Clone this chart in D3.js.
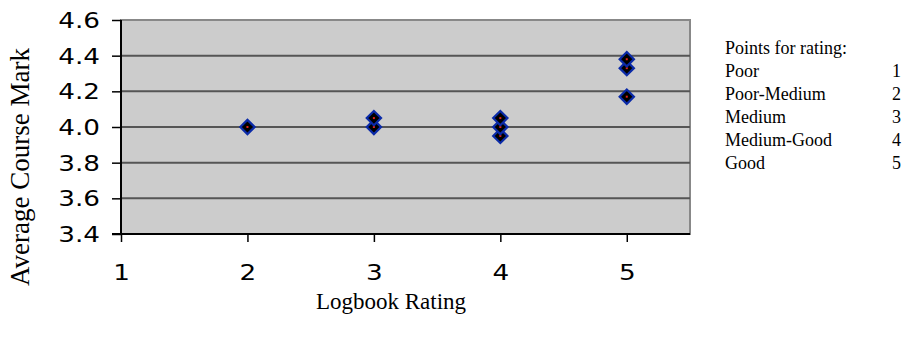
<!DOCTYPE html>
<html><head><meta charset="utf-8">
<script src="https://cdn.jsdelivr.net/npm/d3@7"></script>
<style>
html,body{margin:0;padding:0;background:#fff;}
svg{display:block;}
</style></head>
<body>
<svg id="chart" width="913" height="338"></svg>
<script>
// Data
const ratingX = [2, 3, 3, 4, 4, 4, 5, 5, 5];
const courseMark = [4.0, 4.0, 4.05, 3.95, 4.0, 4.05, 4.17, 4.33, 4.38];
const xTicks = [1, 2, 3, 4, 5];
const yTicks = [3.4, 3.6, 3.8, 4.0, 4.2, 4.4, 4.6];
const legendTitle = "Points for rating:";
const legendLabels = ["Poor", "Poor-Medium", "Medium", "Medium-Good", "Good"];
const legendPoints = [1, 2, 3, 4, 5];

const svg = d3.select("#chart");
const L = 121, R = 690, T = 20, B = 234;
const x = d3.scaleLinear().domain([1, 5.5]).range([L, R]);
const y = d3.scaleLinear().domain([3.4, 4.6]).range([B, T]);

// plot background and frame
svg.append("rect").attr("x", L).attr("y", T).attr("width", R - L).attr("height", B - T)
  .attr("fill", "#cccccc").attr("stroke", "#888888").attr("stroke-width", 2);

// gridlines
svg.append("g").selectAll("line").data(yTicks.filter(d => d > 3.4 && d < 4.6)).join("line")
  .attr("x1", L).attr("x2", R).attr("y1", d => y(d)).attr("y2", d => y(d))
  .attr("stroke", "#555555").attr("stroke-width", 2);

const tickFont = "'DejaVu Sans', 'Noto Sans', sans-serif";
const sx = 1.25;
// y axis
const yAxis = d3.axisLeft(y).tickValues(yTicks).tickFormat(d3.format(".1f")).tickSize(9);
const gy = svg.append("g").attr("transform", `translate(${L},0)`).call(yAxis);
gy.select(".domain").attr("stroke", "#000").attr("stroke-width", 2).attr("d", `M0,${T}V${B}`);
gy.selectAll(".tick line").attr("stroke", "#000").attr("stroke-width", 1.5);
gy.selectAll(".tick text").attr("font-family", tickFont).attr("font-size", 21).attr("fill", "#000")
  .attr("x", -21 / sx).attr("dy", "0.36em").attr("transform", `scale(${sx},1)`);

// x axis
const xAxis = d3.axisBottom(x).tickValues(xTicks).tickFormat(d3.format("d")).tickSize(8);
const gx = svg.append("g").attr("transform", `translate(0,${B})`).call(xAxis);
gx.select(".domain").attr("stroke", "#000").attr("stroke-width", 2).attr("d", `M${L - 9},0H${R}`);
gx.selectAll(".tick line").attr("stroke", "#000").attr("stroke-width", 1.5);
gx.selectAll(".tick text").attr("font-family", tickFont).attr("font-size", 21).attr("fill", "#000")
  .attr("y", 46).attr("dy", null).attr("transform", `scale(${sx},1)`);

// points
const pts = svg.append("g");
const sym = d3.symbol().type(d3.symbolDiamond2).size(130);
ratingX.forEach((rx, i) => {
  const g = pts.append("g").attr("transform", `translate(${x(rx)},${y(courseMark[i])})`);
  g.append("path").attr("d", sym()).attr("fill", "#000").attr("stroke", "#0a2aa8").attr("stroke-width", 2.2);
  g.append("rect").attr("x", -1).attr("y", -1).attr("width", 2).attr("height", 2).attr("fill", "#e0201a");
});

// axis titles
const serif = "'Liberation Serif', 'Times New Roman', serif";
svg.append("text").attr("x", 391).attr("y", 309).attr("text-anchor", "middle")
  .attr("font-family", serif).attr("font-size", 23).text("Logbook Rating");
svg.append("text").attr("transform", `translate(29,167) rotate(-90)`).attr("text-anchor", "middle")
  .attr("font-family", serif).attr("font-size", 27).text("Average Course Mark");

// legend
const lg = svg.append("g").attr("font-family", serif).attr("font-size", 18).attr("fill", "#000");
lg.append("text").attr("x", 725).attr("y", 54).text(legendTitle);
legendLabels.forEach((lab, i) => {
  lg.append("text").attr("x", 725).attr("y", 77 + i * 23).text(lab);
  lg.append("text").attr("x", 901).attr("y", 77 + i * 23).attr("text-anchor", "end").text(legendPoints[i]);
});
</script>
</body></html>
